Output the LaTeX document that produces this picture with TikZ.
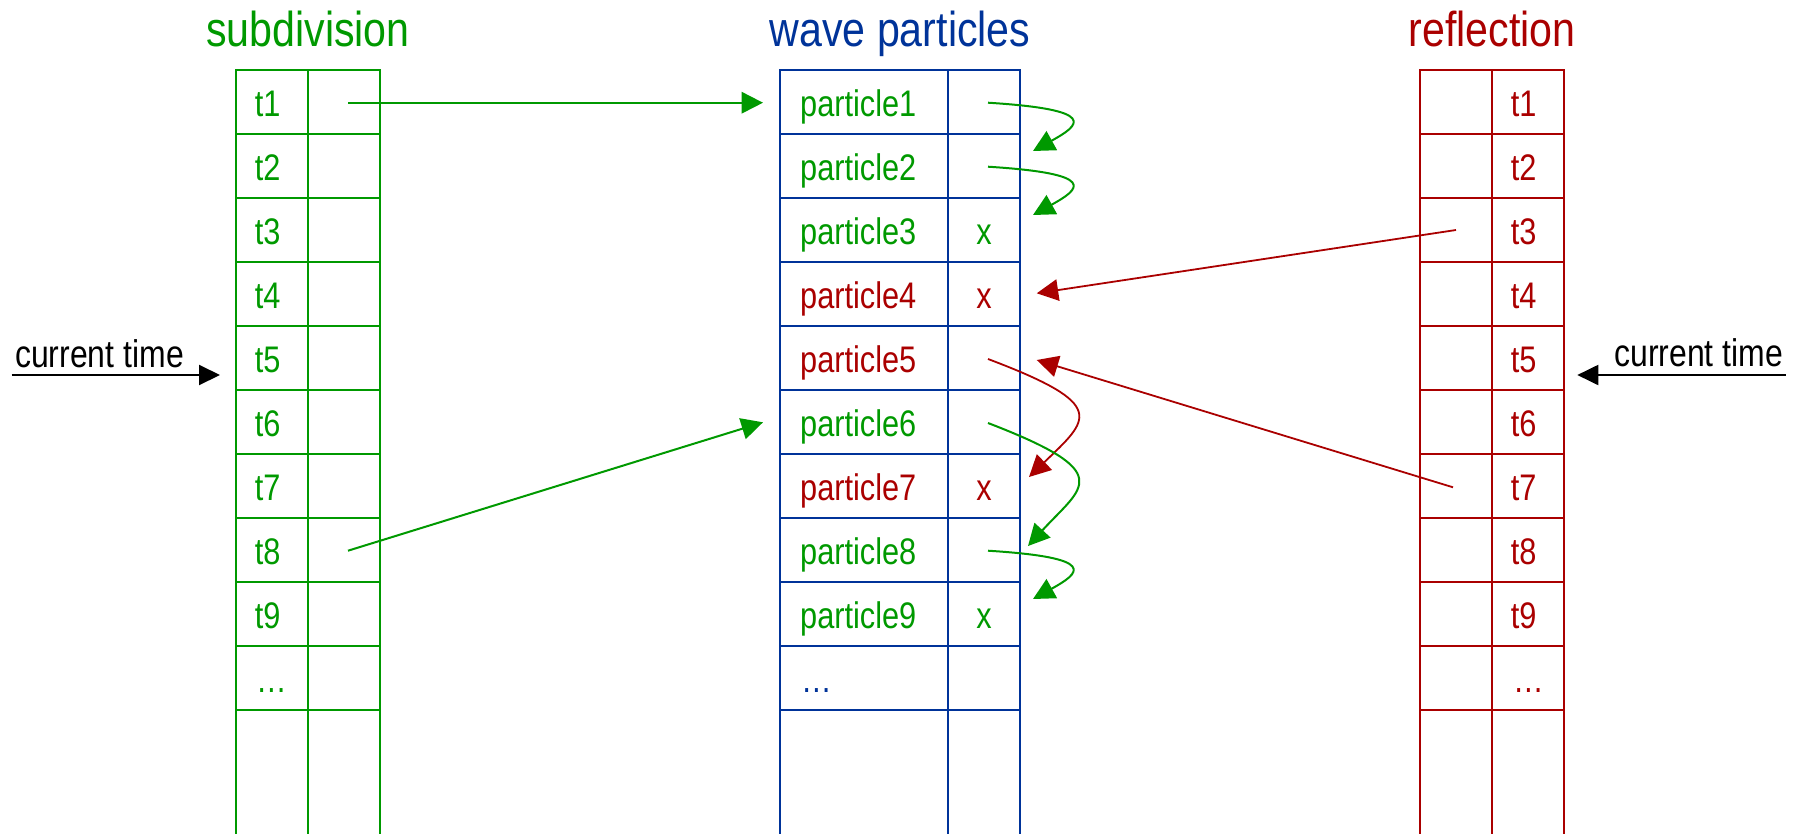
\documentclass[tikz,border=0pt]{standalone}
\usepackage{fontspec}
\setmainfont{Liberation Sans}[FakeStretch=0.83]
\newfontfamily\titlefont{Liberation Sans}[FakeStretch=0.84]
\usetikzlibrary{arrows.meta}
\definecolor{cg}{RGB}{0,153,0}
\definecolor{cb}{RGB}{0,51,153}
\definecolor{cr}{RGB}{170,0,0}
\begin{document}
\begin{tikzpicture}[x=1pt,y=-1pt,
  cell/.style={draw, rectangle, line width=2.2pt, minimum height=64pt, inner sep=0pt, outer sep=0pt},
  ttl/.style={font=\titlefont\fontsize{49}{51}\selectfont, anchor=base, inner sep=0pt},
  txt/.style={font=\fontsize{37}{40}\selectfont, anchor=base west, inner sep=0pt},
  mk/.style={font=\fontsize{37}{40}\selectfont, anchor=base, inner sep=0pt},
  ctime/.style={font=\fontsize{38.5}{40}\selectfont, inner sep=0pt},
  bigtip/.style={-{Triangle[length=21.5pt,width=21.5pt]}},
  garrow/.style={draw=cg, line width=2pt, bigtip},
  rarrow/.style={draw=cr, line width=1.8pt, bigtip},
  karrow/.style={draw=black, line width=2pt, -{Triangle[length=21pt,width=20pt]}}
]
\clip (0,0) rectangle (1801,833);
% tables
\foreach \k in {1,...,10} {
  \pgfmathsetmacro\cy{102+(\k-1)*64}
  \node[cell, draw=cg, minimum width=72pt]  (sL\k) at (272,\cy) {};
  \node[cell, draw=cg, minimum width=72pt]  (sR\k) at (344,\cy) {};
  \node[cell, draw=cb, minimum width=168pt] (wL\k) at (864,\cy) {};
  \node[cell, draw=cb, minimum width=72pt]  (wR\k) at (984,\cy) {};
  \node[cell, draw=cr, minimum width=72pt]  (rL\k) at (1456,\cy) {};
  \node[cell, draw=cr, minimum width=72pt]  (rR\k) at (1528,\cy) {};
}
\node[cell, draw=cg, minimum width=72pt, minimum height=140pt]  (sL11) at (272,780) {};
\node[cell, draw=cg, minimum width=72pt, minimum height=140pt]  (sR11) at (344,780) {};
\node[cell, draw=cb, minimum width=168pt, minimum height=140pt] (wL11) at (864,780) {};
\node[cell, draw=cb, minimum width=72pt, minimum height=140pt]  (wR11) at (984,780) {};
\node[cell, draw=cr, minimum width=72pt, minimum height=140pt]  (rL11) at (1456,780) {};
\node[cell, draw=cr, minimum width=72pt, minimum height=140pt]  (rR11) at (1528,780) {};
% titles
\node[ttl, text=cg] (tsub) at (308,46.7) {subdivision};
\node[ttl, text=cb] (twave) at (900,46.7) {wave particles};
\node[ttl, text=cr] (trefl) at (1492,46.7) {reflection};
% time labels
\foreach \k in {1,...,9} {
  \pgfmathsetmacro\by{116.7+(\k-1)*64}
  \node[txt, text=cg] (st\k) at (254.6,\by) {t\k};
  \node[txt, text=cr] (rt\k) at (1510.7,\by) {t\k};
}
\node[txt, text=cg] (st10) at (256,692.7) {…};
\node[txt, text=cr] (rt10) at (1513,692.7) {…};
% particles
\node[txt, text=cg] (p1) at (800,116.7) {particle1};
\node[txt, text=cg] (p2) at (800,180.7) {particle2};
\node[txt, text=cg] (p3) at (800,244.7) {particle3};
\node[txt, text=cr] (p4) at (800,308.7) {particle4};
\node[txt, text=cr] (p5) at (800,372.7) {particle5};
\node[txt, text=cg] (p6) at (800,436.7) {particle6};
\node[txt, text=cr] (p7) at (800,500.7) {particle7};
\node[txt, text=cg] (p8) at (800,564.7) {particle8};
\node[txt, text=cg] (p9) at (800,628.7) {particle9};
\node[txt, text=cb] (p10) at (801,692.7) {…};
\node[mk, text=cg] (x3) at (984,244.7) {x};
\node[mk, text=cr] (x4) at (984,308.7) {x};
\node[mk, text=cr] (x7) at (984,500.7) {x};
\node[mk, text=cg] (x9) at (984,628.7) {x};
% current time
\node[ctime, anchor=base west] (ctL) at (15,367.7) {current time};
\node[ctime, anchor=base east] (ctR) at (1783.3,366.7) {current time};
\coordinate (ctLs) at (11.5,375);
\coordinate (ctRs) at (1785.7,375);
\draw[karrow] (ctLs) -- ([shift={(-16,17)}]sL5.west);
\draw[karrow] (ctRs) -- ([shift={(13.3,17)}]rR5.east);
% subdivision -> wave
\draw[garrow] ([shift={(4,0.7)}]sR1.center) -- ([shift={(-17,0.7)}]wL1.west);
\draw[garrow] ([shift={(4,0.7)}]sR8.center) -- ([shift={(-17,0.3)}]wL6.west);
% reflection -> wave
\draw[rarrow] (rL3.center) -- ([shift={(16.7,-0.7)}]wR4.east);
\draw[rarrow] ([shift={(-3,1.3)}]rL7.center) -- ([shift={(16.7,2)}]wR5.east);
% wave self links
\draw[garrow] ([shift={(4,0.7)}]wR1.center) .. controls +(112,7) and +(47,-26) .. ([shift={(13,-15)}]wR2.east);
\draw[garrow] ([shift={(4,0.7)}]wR2.center) .. controls +(112,7) and +(47,-26) .. ([shift={(13,-15)}]wR3.east);
\draw[garrow] ([shift={(4,0.7)}]wR8.center) .. controls +(112,7) and +(47,-26) .. ([shift={(13,-15)}]wR9.east);
\draw[rarrow] ([shift={(4,1)}]wR5.center) .. controls +(122,46) and +(60,-58) .. ([shift={(9,-9)}]wR7.east);
\draw[garrow] ([shift={(4,1)}]wR6.center) .. controls +(130,50) and +(55,-60) .. ([shift={(8,-4)}]wR8.east);
\end{tikzpicture}
\end{document}
